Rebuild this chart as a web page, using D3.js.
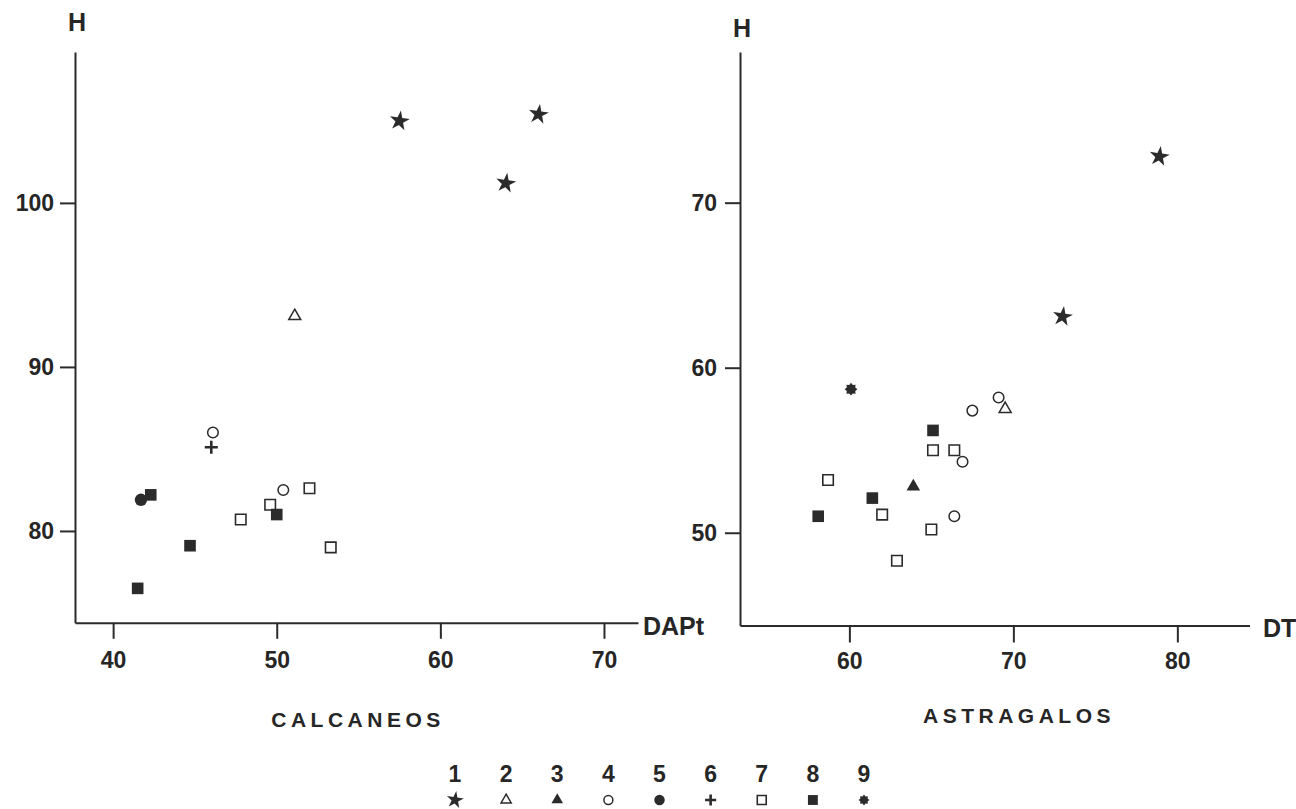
<!DOCTYPE html>
<html>
<head>
<meta charset="utf-8">
<script src="https://cdn.jsdelivr.net/npm/d3@7"></script>
<style>
  html, body { margin: 0; padding: 0; background: #fff; }
  svg text { font-family: "Liberation Sans", Arial, Helvetica, sans-serif; fill: #262626; }
</style>
</head>
<body>
<svg id="chart" width="1296" height="809"></svg>
<script>
// ---------------- DATA ----------------
// CALCANEOS panel: x = DAPt, y = H, group = legend category
const calcaneosDAPt  = [57.5, 66.0, 64.0, 51.1, 46.1, 50.4, 46.0, 52.0, 49.6, 47.8, 53.3, 42.3, 50.0, 44.7, 41.5, 41.7];
const calcaneosH     = [105.0, 105.4, 101.2, 93.1, 86.0, 82.5, 85.1, 82.6, 81.6, 80.7, 79.0, 82.2, 81.0, 79.1, 76.5, 81.9];
const calcaneosGroup = [1, 1, 1, 2, 4, 4, 6, 7, 7, 7, 7, 8, 8, 8, 8, 5];

// ASTRAGALOS panel: x = DT, y = H
const astragalosDT    = [78.9, 73.0, 60.1, 69.1, 67.5, 66.9, 66.4, 69.5, 65.1, 61.4, 58.1, 65.1, 66.4, 58.7, 62.0, 65.0, 62.9, 63.9];
const astragalosH     = [72.8, 63.1, 58.7, 58.2, 57.4, 54.3, 51.0, 57.5, 56.2, 52.1, 51.0, 55.0, 55.0, 53.2, 51.1, 50.2, 48.3, 52.8];
const astragalosGroup = [1, 1, 9, 4, 4, 4, 4, 2, 8, 8, 8, 7, 7, 7, 7, 7, 7, 3];

// Axis ticks
const calcXTicks = [40, 50, 60, 70];
const calcYTicks = [80, 90, 100];
const astrXTicks = [60, 70, 80];
const astrYTicks = [50, 60, 70];

// Legend categories
const legendCategories = [1, 2, 3, 4, 5, 6, 7, 8, 9];

// ---------------- SYMBOLS ----------------
const INK = "#2b2b2b";
const gearSymbol = {
  draw(ctx, size) {
    const R = Math.sqrt(size / Math.PI) * 1.08, r = R * 0.72, n = 8;
    for (let i = 0; i < n * 2; i++) {
      const a = i * Math.PI / n - Math.PI / 2;
      const rr = i % 2 === 0 ? R : r;
      const x = rr * Math.cos(a), y = rr * Math.sin(a);
      if (i === 0) ctx.moveTo(x, y); else ctx.lineTo(x, y);
    }
    ctx.closePath();
  }
};
// per group: symbol type, size, filled?, stroke width, rotation
const symbolSpec = {
  1: { type: d3.symbolStar,     size: 125, fill: true,  sw: 0,   rot: 8 },
  2: { type: d3.symbolTriangle, size: 62,  fill: false, sw: 1.5, rot: 0 },
  3: { type: d3.symbolTriangle, size: 80,  fill: true,  sw: 0,   rot: 0 },
  4: { type: d3.symbolCircle,   size: 88,  fill: false, sw: 1.5, rot: 0 },
  5: { type: d3.symbolCircle,   size: 120, fill: true,  sw: 0,   rot: 0 },
  6: { type: d3.symbolPlus,     size: 58,  fill: false, sw: 2.6, rot: 0 },
  7: { type: d3.symbolSquare,   size: 110, fill: false, sw: 1.6, rot: 0 },
  8: { type: d3.symbolSquare,   size: 135, fill: true,  sw: 0,   rot: 0 },
  9: { type: gearSymbol,        size: 110, fill: true,  sw: 0,   rot: 0 }
};

function drawSymbol(sel, g, scale) {
  const s = symbolSpec[g];
  const p = d3.symbol().type(s.type).size(s.size * scale * scale)();
  sel.append("path")
    .attr("d", p)
    .attr("transform", (sel.attr("data-rot") || "") + ` rotate(${s.rot})`)
    .attr("fill", s.fill ? INK : "none")
    .attr("stroke", s.fill ? "none" : INK)
    .attr("stroke-width", s.sw);
}

// ---------------- DRAW ----------------
const svg = d3.select("#chart");

function panel(cfg) {
  const g = svg.append("g");
  const x = d3.scaleLinear().domain(cfg.xDomain).range(cfg.xRange);
  const y = d3.scaleLinear().domain(cfg.yDomain).range(cfg.yRange);

  const xAxis = d3.axisBottom(x).tickValues(cfg.xTicks).tickSize(cfg.xTickSize)
    .tickSizeOuter(0).tickPadding(cfg.xPad).tickFormat(d3.format("d"));
  const yAxis = d3.axisLeft(y).tickValues(cfg.yTicks).tickSize(cfg.yTickSize)
    .tickSizeOuter(0).tickPadding(cfg.yPad).tickFormat(d3.format("d"));

  const gx = g.append("g").attr("transform", `translate(0,${cfg.yRange[0]})`).call(xAxis);
  const gy = g.append("g").attr("transform", `translate(${cfg.xRange[0]},0)`).call(yAxis);
  [gx, gy].forEach(a => {
    a.selectAll("path.domain").attr("stroke", INK).attr("stroke-width", 2);
    a.selectAll(".tick line").attr("stroke", INK).attr("stroke-width", 2);
    a.selectAll(".tick text").attr("font-size", 23).attr("font-weight", "bold")
      .attr("font-family", "Liberation Sans, Arial, sans-serif").attr("fill", "#262626");
  });

  // Axis name labels
  g.append("text").attr("x", cfg.hPos[0]).attr("y", cfg.hPos[1])
    .attr("text-anchor", "middle").attr("font-size", 25).attr("font-weight", "bold").text("H");
  g.append("text").attr("x", cfg.xLabelPos[0]).attr("y", cfg.xLabelPos[1])
    .attr("font-size", 25).attr("font-weight", "bold").text(cfg.xName);

  // Title
  g.append("text").attr("x", cfg.titlePos[0]).attr("y", cfg.titlePos[1])
    .attr("text-anchor", "middle").attr("font-size", 21).attr("font-weight", "bold")
    .attr("letter-spacing", "4.5px").text(cfg.title);

  // Points
  cfg.xs.forEach((xv, i) => {
    const pg = g.append("g").attr("data-rot", `translate(${x(xv)},${y(cfg.ys[i])})`);
    drawSymbol(pg, cfg.groups[i], 1);
  });
}

panel({
  xDomain: [37.67, 72.08], xRange: [75, 638],
  yDomain: [74.4, 109.2], yRange: [622.8, 52],
  xTicks: calcXTicks, yTicks: calcYTicks,
  xTickSize: 16, xPad: 13, yTickSize: 15, yPad: 6,
  hPos: [77, 31], xLabelPos: [643, 635], xName: "DAPt",
  title: "CALCANEOS", titlePos: [358, 727],
  xs: calcaneosDAPt, ys: calcaneosH, groups: calcaneosGroup
});

panel({
  xDomain: [53.33, 84.4], xRange: [740, 1249.5],
  yDomain: [44.38, 79.13], yRange: [625.5, 52],
  xTicks: astrXTicks, yTicks: astrYTicks,
  xTickSize: 17, xPad: 10.5, yTickSize: 15, yPad: 8,
  hPos: [742, 37], xLabelPos: [1263, 637], xName: "DT",
  title: "ASTRAGALOS", titlePos: [1019, 723],
  xs: astragalosDT, ys: astragalosH, groups: astragalosGroup
});

// Legend
const lx = d3.scalePoint().domain(legendCategories).range([455, 864]);
const leg = svg.append("g");
legendCategories.forEach(c => {
  leg.append("text").attr("x", lx(c)).attr("y", 782).attr("text-anchor", "middle")
    .attr("font-size", 23).attr("font-weight", "bold").text(c);
  const sg = leg.append("g").attr("data-rot", `translate(${lx(c)},800)`);
  drawSymbol(sg, c, 0.85);
});
</script>
</body>
</html>
